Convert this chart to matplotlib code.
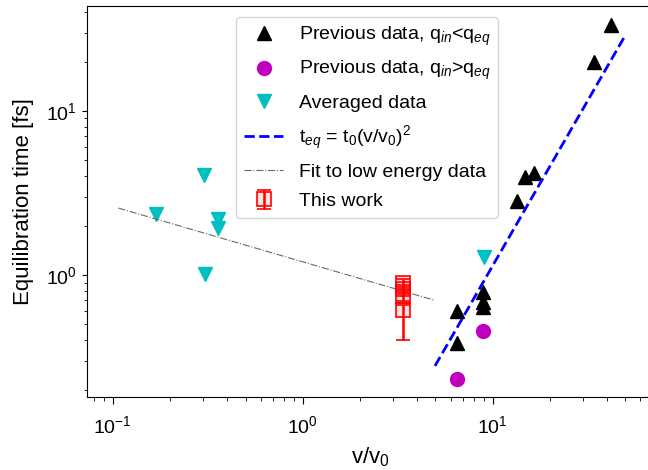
import matplotlib
matplotlib.use('Agg')
import matplotlib.pyplot as plt

plt.rcParams['font.family'] = ['Liberation Sans', 'DejaVu Sans']
plt.rcParams['mathtext.fontset'] = 'custom'
plt.rcParams['mathtext.rm'] = 'Liberation Sans'
plt.rcParams['mathtext.it'] = 'Liberation Sans:italic'
plt.rcParams['mathtext.bf'] = 'Liberation Sans:bold'

# previous data, q_in < q_eq
prev_low_x = [42.0, 34.3, 16.5, 14.8, 13.5, 8.94, 8.94, 8.94, 6.47, 6.47]
prev_low_y = [33.4, 20.0, 4.2, 3.94, 2.84, 0.79, 0.687, 0.64, 0.60, 0.387]

# previous data, q_in > q_eq
prev_high_x = [8.94, 6.47]
prev_high_y = [0.457, 0.231]

# averaged data
avg_x = [0.169, 0.303, 0.306, 0.36, 0.36, 9.0]
avg_y = [2.35, 4.07, 1.01, 2.19, 1.93, 1.29]

# t_eq = t0 (v/v0)^2 line endpoints
teq_x = [4.97, 49.2]
teq_y = [0.279, 28.1]

# fit to low energy data endpoints
fit_x = [0.107, 4.97]
fit_y = [2.56, 0.70]

# this work
work_x = [3.39, 3.39, 3.39, 3.39]
work_y = [0.90, 0.82, 0.74, 0.61]
work_err_lo = [0.05, 0.05, 0.05, 0.21]
work_err_hi = [0.05, 0.05, 0.05, 0.05]


def main():
    fig = plt.figure(figsize=(6.48, 4.70), dpi=100)
    ax = fig.add_axes([0.134, 0.155, 0.874, 0.832])

    ax.plot(prev_low_x, prev_low_y, 'k^', ms=10, ls='none',
            label=r'Previous data, q$_{\mathit{in}}$<q$_{\mathit{eq}}$')
    ax.plot(prev_high_x, prev_high_y, 'mo', ms=10, ls='none',
            label=r'Previous data, q$_{\mathit{in}}$>q$_{\mathit{eq}}$')
    ax.plot(avg_x, avg_y, 'cv', ms=10, ls='none', label='Averaged data')
    ax.plot(teq_x, teq_y, 'b--', lw=2, label=r't$_{\mathit{eq}}$ = t$_0$(v/v$_0$)$^2$')
    ax.plot(fit_x, fit_y, '-.', color='dimgray', lw=0.8, label='Fit to low energy data')
    ax.errorbar(work_x, work_y, yerr=[work_err_lo, work_err_hi], fmt='s', color='r',
                ms=10, mfc=(1, 0, 0, 0.12), mec='r', mew=1.2, capsize=4.8,
                elinewidth=1.8, capthick=1.5, label='This work')

    ax.set_xscale('log')
    ax.set_yscale('log')
    ax.set_xlim(0.073, 70)
    ax.set_ylim(0.18, 43.6)
    ax.tick_params(labelsize=14)
    ax.tick_params(axis='x', which='major', length=5, pad=8)
    ax.tick_params(axis='x', which='minor', length=3)
    ax.set_xlabel(r'v/v$_0$', fontsize=16, labelpad=6)
    ax.set_ylabel('Equilibration time [fs]', fontsize=16, labelpad=9)

    ax.legend(loc='upper center', bbox_to_anchor=(0.495, 0.998), fontsize=14,
              labelspacing=0.6)

    fig.savefig('out.png', dpi=100)
    plt.close(fig)


if __name__ == '__main__':
    main()
